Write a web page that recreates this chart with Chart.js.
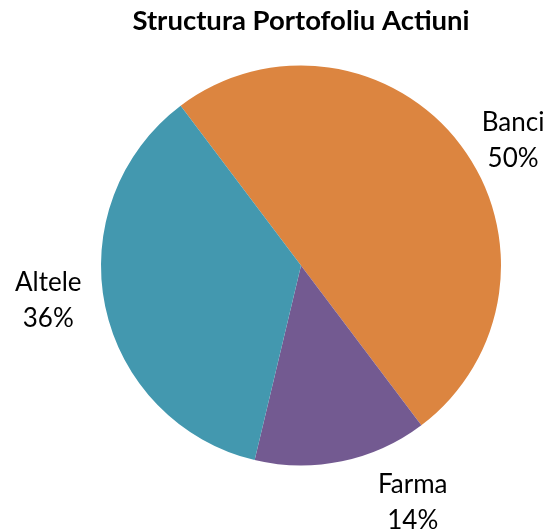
<!DOCTYPE html>
<html>
<head>
<meta charset="utf-8">
<script src="https://cdn.jsdelivr.net/npm/chart.js@4"></script>
<style>
  html, body { margin: 0; padding: 0; background: #fff; }
  #wrap { width: 549px; height: 529px; }
</style>
</head>
<body>
<div id="wrap"><canvas id="pieChart"></canvas></div>
<script>
const categories = ["Banci", "Farma", "Altele"];
const shares = [50, 14, 36];
const sliceColors = ["#DC8540", "#735A91", "#4398AF"];

// labels sit outside the pie, near the middle angle of each slice
const outsideLabels = {
    id: "outsideLabels",
    afterDatasetsDraw(chart) {
        const ctx = chart.ctx;
        const meta = chart.getDatasetMeta(0);
        const tweak = [[14, 24], [61, -6], [-10, -16]];
        ctx.save();
        ctx.font = "26px Lato";
        ctx.fillStyle = "#000";
        ctx.textAlign = "center";
        ctx.textBaseline = "middle";
        meta.data.forEach((arc, i) => {
            const mid = (arc.startAngle + arc.endAngle) / 2;
            const dist = arc.outerRadius + 48;
            const x = arc.x + Math.cos(mid) * dist + tweak[i][0];
            const y = arc.y + Math.sin(mid) * dist + tweak[i][1];
            ctx.fillText(categories[i], x, y - 18);
            ctx.fillText(shares[i] + "%", x, y + 18);
        });
        ctx.restore();
    }
};

new Chart(document.getElementById("pieChart").getContext("2d"), {
    type: "pie",
    data: {
        labels: categories,
        datasets: [{
            data: shares,
            backgroundColor: sliceColors,
            borderWidth: 0
        }]
    },
    options: {
        responsive: true,
        maintainAspectRatio: false,
        animation: false,
        rotation: -37,
        layout: { padding: { top: 0, bottom: 63, left: 101, right: 48 } },
        plugins: {
            legend: { display: false },
            tooltip: { enabled: false },
            title: {
                display: true,
                text: "Structura Portofoliu Actiuni",
                color: "#000",
                font: { family: "Lato", size: 27.5, weight: "bold" },
                padding: { top: 5, bottom: 27 }
            }
        }
    },
    plugins: [outsideLabels]
});
</script>
</body>
</html>
